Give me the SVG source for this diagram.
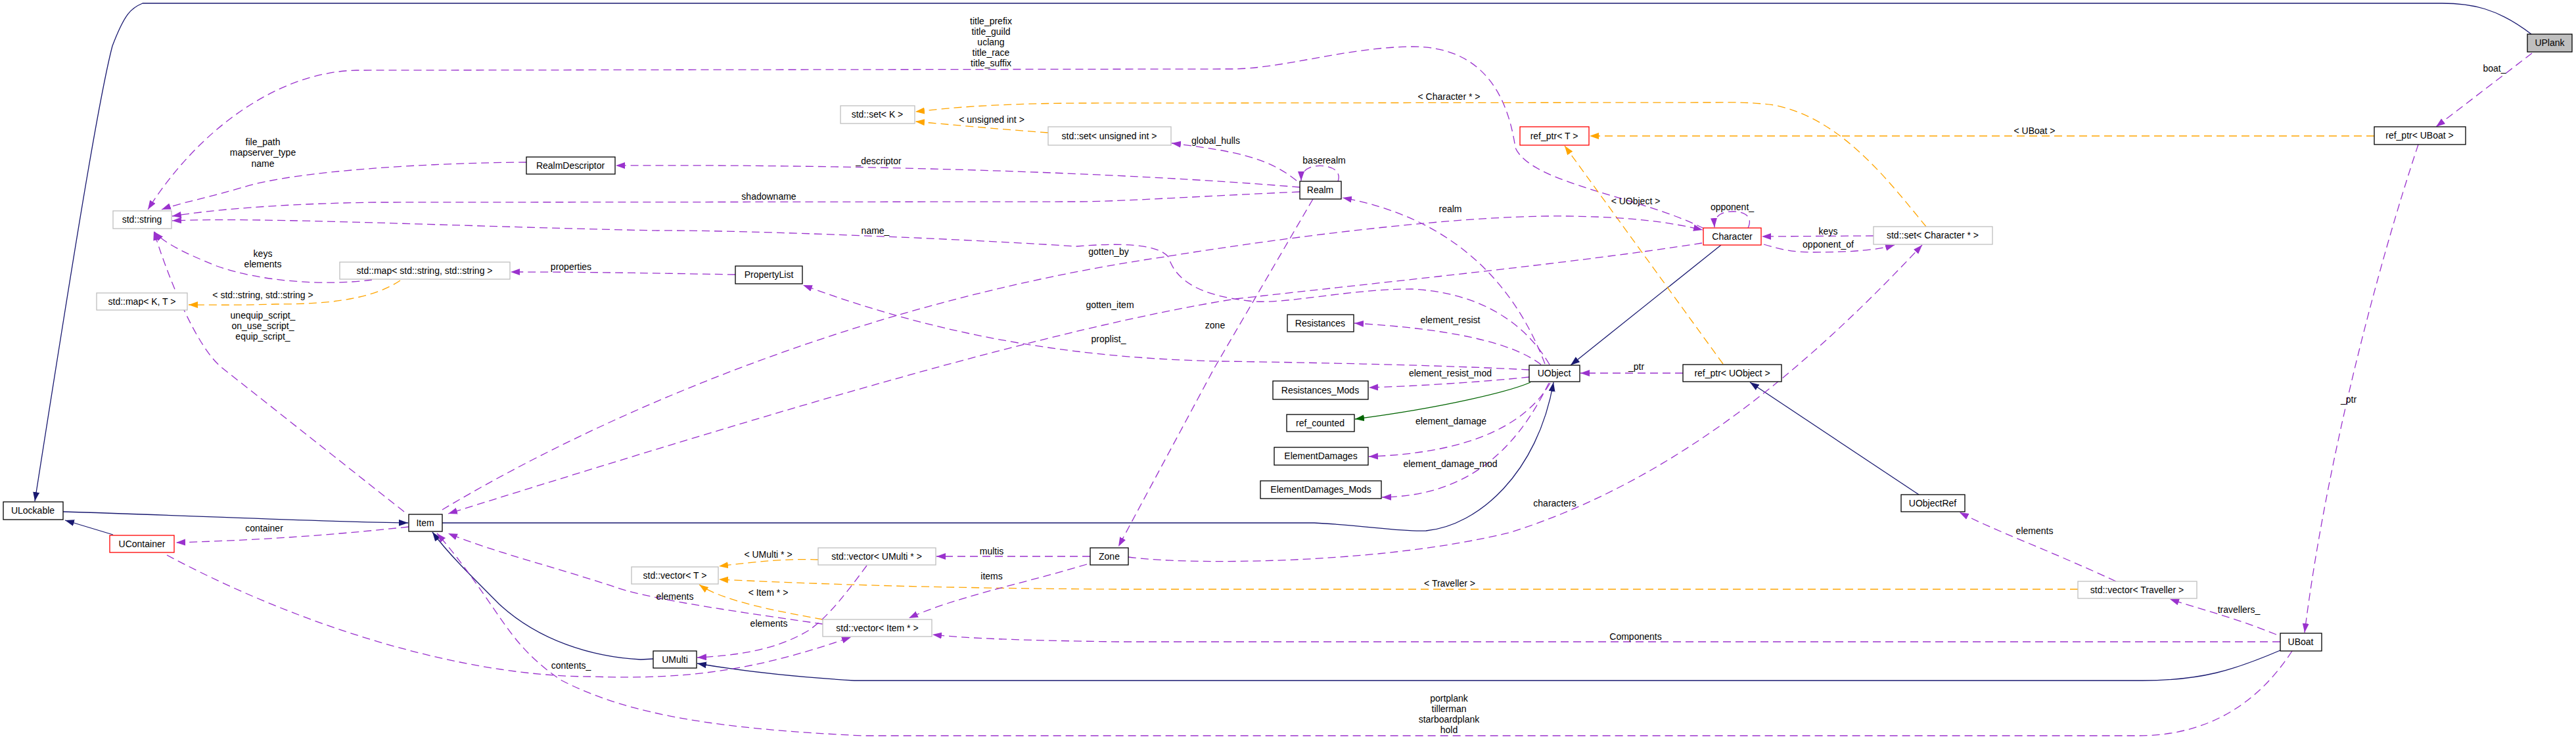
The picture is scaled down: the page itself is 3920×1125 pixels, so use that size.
<svg xmlns="http://www.w3.org/2000/svg" width="3920" height="1125" viewBox="0 0 3920 1125">
<style>
text{font-family:"Liberation Sans",Arial,sans-serif;font-size:14px;fill:#000;text-anchor:middle}
.n rect{fill:#fff;stroke:#000;stroke-width:1.3}
.g rect{stroke:#bfbfbf}
.r rect{stroke:#ff0000}
.e path{fill:none;stroke-width:1.3}
.inh{stroke:#191970}
.grn{stroke:#006400}
.use{stroke:#9a32cd;stroke-dasharray:12,7}
.tpl{stroke:#ffa500;stroke-dasharray:12,7}
.inh{marker-end:url(#mn)}.grn{marker-end:url(#mg)}.use{marker-end:url(#mp)}.tpl{marker-end:url(#mo)}
</style>
<defs>
<marker id="mn" markerUnits="userSpaceOnUse" markerWidth="16" markerHeight="12" refX="14" refY="5" orient="auto"><path d="M0,0 L14,5 L0,10 z" fill="#191970"/></marker>
<marker id="mg" markerUnits="userSpaceOnUse" markerWidth="16" markerHeight="12" refX="14" refY="5" orient="auto"><path d="M0,0 L14,5 L0,10 z" fill="#006400"/></marker>
<marker id="mp" markerUnits="userSpaceOnUse" markerWidth="16" markerHeight="12" refX="14" refY="5" orient="auto"><path d="M0,0 L14,5 L0,10 z" fill="#9a32cd"/></marker>
<marker id="mo" markerUnits="userSpaceOnUse" markerWidth="16" markerHeight="12" refX="14" refY="5" orient="auto"><path d="M0,0 L14,5 L0,10 z" fill="#ffa500"/></marker>
</defs>
<rect width="3920" height="1125" fill="#fff"/>
<g id="edges" class="e">
<path class="inh" d="M3852,52 C3800,12 3760,5 3716,5 L217,5 C200,12 190,20 171,70 C150,150 110,400 53,763"/>
<path class="inh" d="M96,779 C300,785 500,795 621,796"/>
<path class="inh" d="M172,814 L99,792"/>
<path class="inh" d="M673,796 L2000,796 C2080,800 2130,810 2170,808 C2250,800 2340,720 2364,582"/>
<path class="inh" d="M994,1003 L975,1004 C900,1000 820,975 760,920 C710,870 680,840 658,810"/>
<path class="inh" d="M3470,990 C3400,1020 3350,1036 3260,1036 L1300,1036 C1200,1030 1120,1020 1061,1010"/>
<path class="inh" d="M2619,373 L2390,556"/>
<path class="inh" d="M2920,753 L2663,582"/>
<path class="grn" d="M2329,582 C2300,595 2200,620 2062,638"/>
<path class="use" d="M3853,81 L3707,193"/>
<path class="use" d="M3680,220 C3620,400 3540,700 3507,963"/>
<path class="use" d="M3464,966 C3400,940 3340,925 3302,912"/>
<path class="use" d="M3220,885 C3100,830 3040,810 2982,780"/>
<path class="use" d="M3470,977 L1700,977 C1560,975 1470,972 1419,966"/>
<path class="use" d="M3488,991 C3430,1080 3350,1120 3253,1120 L1313,1120 C1100,1110 960,1090 855,1036 C800,1000 775,960 759,938 C720,880 690,840 665,812"/>
<path class="use" d="M254,845 C450,950 700,1030 900,1030 C1050,1035 1150,1020 1295,970"/>
<path class="use" d="M622,802 C500,815 400,822 268,826"/>
<path class="use" d="M1252,950 C1150,935 1000,915 940,895 C850,865 750,840 682,812"/>
<path class="use" d="M615,779 L338,560 C298,528 255,420 234,352"/>
<path class="use" d="M566,426 C500,435 400,430 330,405 C280,385 250,370 235,353"/>
<path class="tpl" d="M609,427 C560,460 480,463 420,463 C360,465 320,464 287,464"/>
<path class="use" d="M1119,418 C1000,416 900,414 777,414"/>
<path class="use" d="M2327,563 C2200,556 2000,552 1860,550 C1600,545 1400,500 1222,434"/>
<path class="use" d="M2358,555 C2320,490 2250,445 2148,440 C2050,440 1950,465 1900,458 C1830,450 1790,430 1778,391 C1760,370 1700,370 1638,375 C1400,360 1100,350 1000,351 C700,345 400,330 262,336"/>
<path class="use" d="M1978,292 C1800,300 1700,307 1638,307 L574,308 C420,310 320,320 262,329"/>
<path class="use" d="M1978,285 C1700,262 1300,250 937,252"/>
<path class="use" d="M801,247 C650,248 450,260 370,285 C320,300 270,310 246,319"/>
<path class="use" d="M2593,348 C2500,300 2330,280 2306,225 C2295,150 2260,70 2147,71 C2050,72 1950,105 1874,105 L542,107 C420,110 300,200 225,319"/>
<path class="use" d="M2036,276 C2042,260 2025,250 2000,253 C1985,256 1980,265 1980,275"/>
<path class="use" d="M1973,275 C1930,240 1880,230 1783,218"/>
<path class="tpl" d="M1595,202 C1500,195 1450,190 1393,185"/>
<path class="tpl" d="M2931,345 C2870,270 2800,180 2700,160 C2660,155 2640,156 2600,156 L1638,157 C1500,158 1440,165 1393,170"/>
<path class="tpl" d="M3613,207 L2419,207"/>
<path class="tpl" d="M2622,554 L2381,222"/>
<path class="tpl" d="M3162,897 L1700,897 C1500,896 1300,892 1094,882"/>
<path class="tpl" d="M1245,852 C1200,850 1150,855 1094,862"/>
<path class="tpl" d="M1252,943 C1180,930 1100,915 1064,890"/>
<path class="use" d="M1659,847 L1425,847"/>
<path class="use" d="M1654,859 C1550,890 1450,910 1383,941"/>
<path class="use" d="M1319,861 C1290,900 1260,940 1230,960 C1180,990 1120,998 1061,1001"/>
<path class="use" d="M1998,303 L1848,560 L1702,832"/>
<path class="use" d="M1717,848 C1800,860 2100,860 2300,810 C2550,730 2750,560 2925,373"/>
<path class="use" d="M2345,555 C2300,520 2200,500 2061,492"/>
<path class="use" d="M2327,574 C2250,582 2150,588 2083,590"/>
<path class="use" d="M2359,583 C2320,650 2230,690 2083,695"/>
<path class="use" d="M2357,583 C2300,700 2220,755 2103,757"/>
<path class="use" d="M2561,568 L2405,568"/>
<path class="use" d="M2351,554 C2300,420 2200,330 2043,301"/>
<path class="use" d="M673,776 C900,640 1300,460 1772,391 C1900,370 2200,327 2383,329 C2480,330 2540,338 2591,350"/>
<path class="use" d="M2590,370 C2400,400 2100,430 1880,455 C1600,500 1200,620 682,782"/>
<path class="use" d="M2660,347 C2668,330 2655,322 2638,322 C2615,322 2608,332 2609,346"/>
<path class="use" d="M2851,359 L2681,360"/>
<path class="use" d="M2684,372 C2710,380 2730,384 2760,384 C2820,384 2860,380 2883,373"/>
</g>
<g id="labels">
<text x="400" y="221">file_path</text><text x="400" y="237">mapserver_type</text><text x="400" y="254">name</text>
<text x="400" y="391">keys</text><text x="400" y="407">elements</text>
<text x="400" y="454">&lt; std::string, std::string &gt;</text>
<text x="400" y="485">unequip_script_</text><text x="400" y="501">on_use_script_</text><text x="400" y="517">equip_script_</text>
<text x="869" y="411">properties</text>
<text x="402" y="809">container</text>
<text x="869" y="1018">contents_</text>
<text x="1508" y="37">title_prefix</text><text x="1508" y="53">title_guild</text><text x="1508" y="69">uclang</text><text x="1508" y="85">title_race</text><text x="1508" y="101">title_suffix</text>
<text x="1509" y="187">&lt; unsigned int &gt;</text>
<text x="1850" y="219">global_hulls</text>
<text x="1337" y="250">_descriptor</text>
<text x="1170" y="304">shadowname</text>
<text x="1332" y="356">name_</text>
<text x="1687" y="388">gotten_by</text>
<text x="1689" y="469">gotten_item</text>
<text x="1849" y="500">zone</text>
<text x="1687" y="521">proplist_</text>
<text x="2015" y="249">baserealm</text>
<text x="1169" y="849">&lt; UMulti * &gt;</text>
<text x="1027" y="913">elements</text>
<text x="1169" y="907">&lt; Item * &gt;</text>
<text x="1170" y="954">elements</text>
<text x="1509" y="844">multis</text>
<text x="1509" y="882">items</text>
<text x="2207" y="492">element_resist</text>
<text x="2207" y="573">element_resist_mod</text>
<text x="2208" y="646">element_damage</text>
<text x="2207" y="711">element_damage_mod</text>
<text x="2366" y="771">characters</text>
<text x="2205" y="152">&lt; Character * &gt;</text>
<text x="2489" y="311">&lt; UObject &gt;</text>
<text x="2636" y="320">opponent_</text>
<text x="2207" y="323">realm</text>
<text x="2782" y="357">keys</text>
<text x="2782" y="377">opponent_of</text>
<text x="2490" y="563">_ptr</text>
<text x="2206" y="893">&lt; Traveller &gt;</text>
<text x="2489" y="974">Components</text>
<text x="2205" y="1068">portplank</text><text x="2205" y="1084">tillerman</text><text x="2205" y="1100">starboardplank</text><text x="2205" y="1116">hold</text>
<text x="3796" y="109">boat_</text>
<text x="3096" y="204">&lt; UBoat &gt;</text>
<text x="3574" y="613">_ptr</text>
<text x="3096" y="813">elements</text>
<text x="3407" y="933">travellers_</text>
</g>
<g id="UPlank" class="n"><rect x="3846" y="52" width="68" height="27" style="fill:#bfbfbf"/><text x="3880" y="70">UPlank</text></g>
<g id="RealmDescriptor" class="n"><rect x="801" y="239" width="135" height="26"/><text x="868" y="257">RealmDescriptor</text></g>
<g id="std_string" class="n g"><rect x="172" y="321" width="89" height="27"/><text x="216" y="339">std::string</text></g>
<g id="std_map_ss" class="n g"><rect x="517" y="399" width="259" height="26"/><text x="646" y="417">std::map&lt; std::string, std::string &gt;</text></g>
<g id="std_map_KT" class="n g"><rect x="147" y="446" width="138" height="26"/><text x="216" y="464">std::map&lt; K, T &gt;</text></g>
<g id="ULockable" class="n"><rect x="5" y="764" width="91" height="27"/><text x="50" y="782">ULockable</text></g>
<g id="Item" class="n"><rect x="622" y="783" width="51" height="26"/><text x="647" y="801">Item</text></g>
<g id="UContainer" class="n r"><rect x="167" y="815" width="98" height="26"/><text x="216" y="833">UContainer</text></g>
<g id="std_set_K" class="n g"><rect x="1279" y="161" width="113" height="27"/><text x="1335" y="179">std::set&lt; K &gt;</text></g>
<g id="std_set_uint" class="n g"><rect x="1595" y="193" width="187" height="28"/><text x="1688" y="212">std::set&lt; unsigned int &gt;</text></g>
<g id="PropertyList" class="n"><rect x="1119" y="405" width="102" height="27"/><text x="1170" y="423">PropertyList</text></g>
<g id="Realm" class="n"><rect x="1978" y="276" width="63" height="27"/><text x="2009" y="294">Realm</text></g>
<g id="Resistances" class="n"><rect x="1959" y="479" width="101" height="26"/><text x="2009" y="497">Resistances</text></g>
<g id="Resistances_Mods" class="n"><rect x="1937" y="580" width="145" height="28"/><text x="2009" y="599">Resistances_Mods</text></g>
<g id="ref_counted" class="n"><rect x="1958" y="631" width="103" height="26"/><text x="2009" y="649">ref_counted</text></g>
<g id="ElementDamages" class="n"><rect x="1939" y="681" width="143" height="27"/><text x="2010" y="699">ElementDamages</text></g>
<g id="ElementDamages_Mods" class="n"><rect x="1918" y="732" width="184" height="27"/><text x="2010" y="750">ElementDamages_Mods</text></g>
<g id="UObject" class="n"><rect x="2327" y="556" width="77" height="25"/><text x="2365" y="573">UObject</text></g>
<g id="Zone" class="n"><rect x="1659" y="834" width="58" height="26"/><text x="1688" y="852">Zone</text></g>
<g id="std_vector_UMulti" class="n g"><rect x="1245" y="834" width="179" height="26"/><text x="1334" y="852">std::vector&lt; UMulti * &gt;</text></g>
<g id="std_vector_Item" class="n g"><rect x="1252" y="943" width="166" height="26"/><text x="1335" y="961">std::vector&lt; Item * &gt;</text></g>
<g id="std_vector_T" class="n g"><rect x="961" y="863" width="132" height="26"/><text x="1027" y="881">std::vector&lt; T &gt;</text></g>
<g id="UMulti" class="n"><rect x="994" y="991" width="66" height="26"/><text x="1027" y="1009">UMulti</text></g>
<g id="ref_ptr_T" class="n r"><rect x="2313" y="193" width="105" height="28"/><text x="2365" y="212">ref_ptr&lt; T &gt;</text></g>
<g id="Character" class="n r"><rect x="2592" y="347" width="88" height="26"/><text x="2636" y="365">Character</text></g>
<g id="std_set_Character" class="n g"><rect x="2851" y="345" width="181" height="27"/><text x="2941" y="363">std::set&lt; Character * &gt;</text></g>
<g id="ref_ptr_UObject" class="n"><rect x="2561" y="555" width="150" height="26"/><text x="2636" y="573">ref_ptr&lt; UObject &gt;</text></g>
<g id="UObjectRef" class="n"><rect x="2893" y="753" width="97" height="26"/><text x="2941" y="771">UObjectRef</text></g>
<g id="ref_ptr_UBoat" class="n"><rect x="3613" y="193" width="139" height="27"/><text x="3682" y="211">ref_ptr&lt; UBoat &gt;</text></g>
<g id="std_vector_Traveller" class="n g"><rect x="3162" y="885" width="181" height="26"/><text x="3252" y="903">std::vector&lt; Traveller &gt;</text></g>
<g id="UBoat" class="n"><rect x="3470" y="964" width="63" height="27"/><text x="3501" y="982">UBoat</text></g>
</svg>
